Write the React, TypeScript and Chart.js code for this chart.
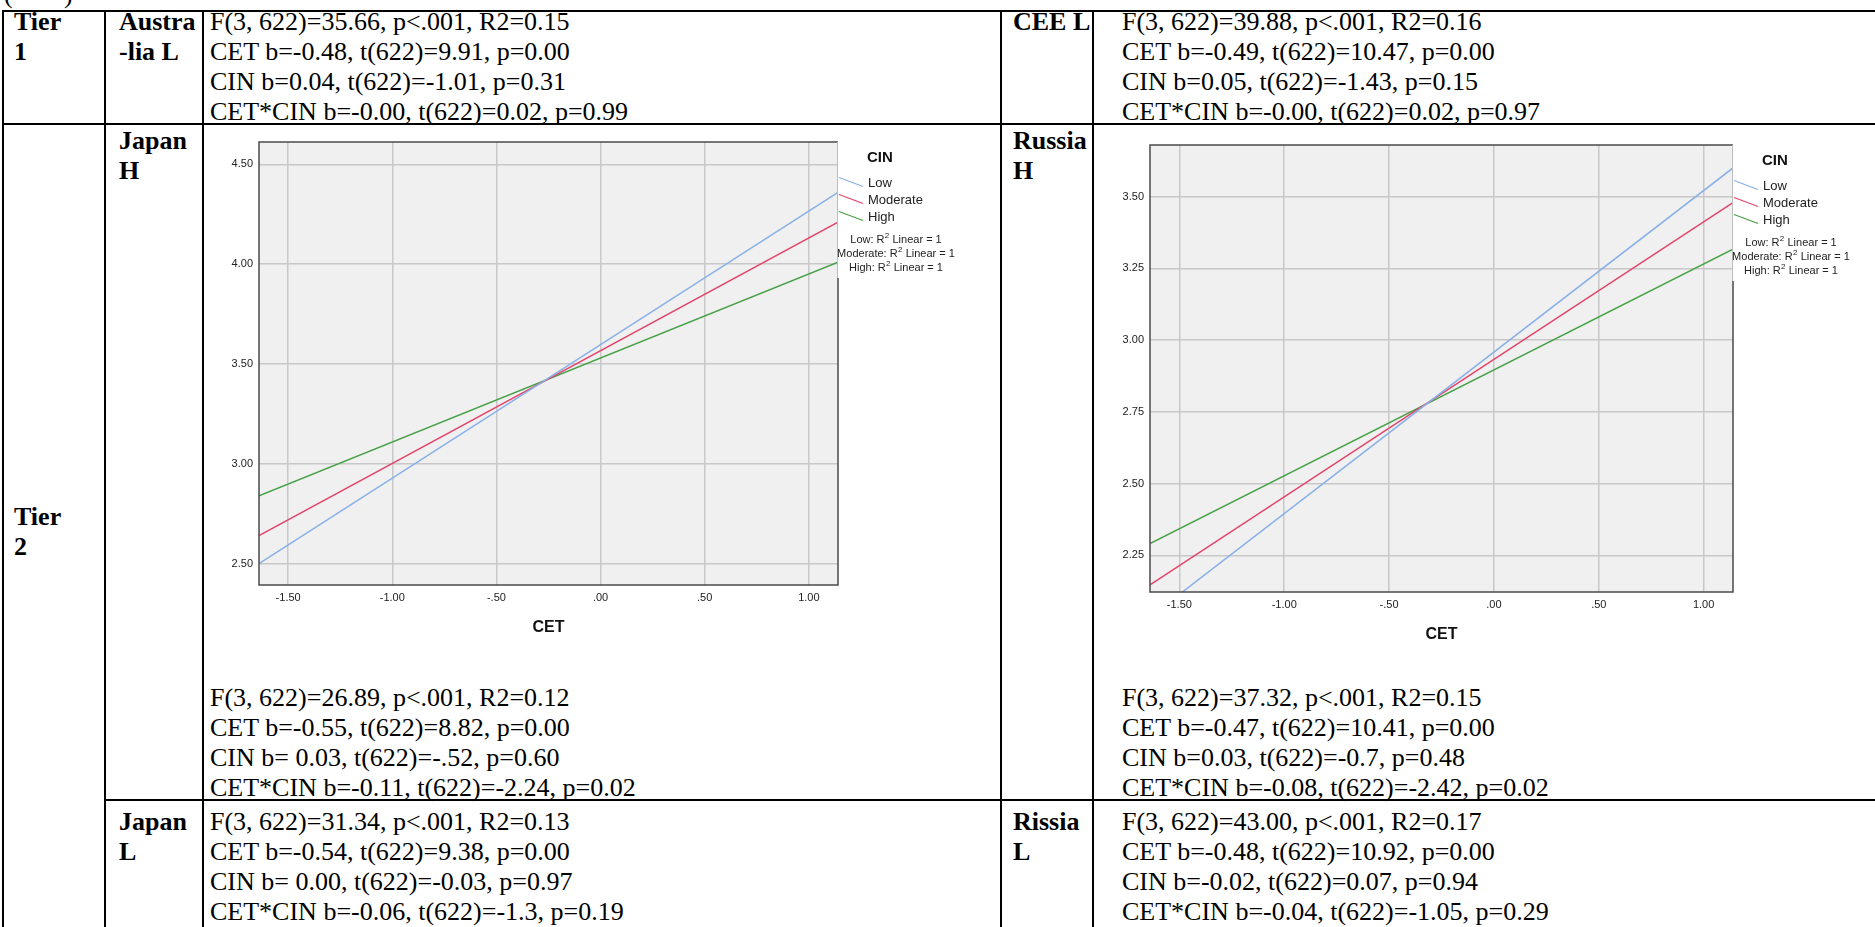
import React, { useEffect, useRef } from "react";
import { Chart, registerables } from "chart.js";

Chart.register(...registerables);

const SANS = '"Liberation Sans", Arial, sans-serif';
const SERIF = '"Liberation Serif", "Times New Roman", serif';

// ---------- chart data ----------
const CIN_LEVELS = ["Low", "Moderate", "High"];
const CIN_COLORS = ["#88b0e8", "#e2456c", "#46a046"];
const CET_RANGE = [-1.64, 1.14];
const CET_TICKS = [-1.5, -1, -0.5, 0, 0.5, 1];
const CET_TICK_LABELS = ["-1.50", "-1.00", "-.50", ".00", ".50", "1.00"];

const JAPAN_H_LOW = [2.5, 4.36];
const JAPAN_H_MODERATE = [2.64, 4.21];
const JAPAN_H_HIGH = [2.84, 4.01];
const JAPAN_Y_RANGE = [2.393, 4.612];
const JAPAN_Y_TICKS = [2.5, 3, 3.5, 4, 4.5];
const JAPAN_Y_TICK_LABELS = ["2.50", "3.00", "3.50", "4.00", "4.50"];

const RUSSIA_H_LOW = [2.035, 3.6];
const RUSSIA_H_MODERATE = [2.147, 3.479];
const RUSSIA_H_HIGH = [2.291, 3.317];
const RUSSIA_Y_RANGE = [2.122, 3.68];
const RUSSIA_Y_TICKS = [2.25, 2.5, 2.75, 3, 3.25, 3.5];
const RUSSIA_Y_TICK_LABELS = ["2.25", "2.50", "2.75", "3.00", "3.25", "3.50"];

const R2_PREFIX = ["Low: R", "Moderate: R", "High: R"];
const R2_SUFFIX = " Linear = 1";

// ---------- table text ----------
const AUSTRALIA_L = [
  "F(3, 622)=35.66, p<.001, R2=0.15",
  "CET b=-0.48, t(622)=9.91, p=0.00",
  "CIN b=0.04, t(622)=-1.01, p=0.31",
  "CET*CIN b=-0.00, t(622)=0.02, p=0.99",
];
const CEE_L = [
  "F(3, 622)=39.88, p<.001, R2=0.16",
  "CET b=-0.49, t(622)=10.47, p=0.00",
  "CIN b=0.05, t(622)=-1.43, p=0.15",
  "CET*CIN b=-0.00, t(622)=0.02, p=0.97",
];
const JAPAN_H = [
  "F(3, 622)=26.89, p<.001, R2=0.12",
  "CET b=-0.55, t(622)=8.82, p=0.00",
  "CIN b= 0.03, t(622)=-.52, p=0.60",
  "CET*CIN b=-0.11, t(622)=-2.24, p=0.02",
];
const RUSSIA_H = [
  "F(3, 622)=37.32, p<.001, R2=0.15",
  "CET b=-0.47, t(622)=10.41, p=0.00",
  "CIN b=0.03, t(622)=-0.7, p=0.48",
  "CET*CIN b=-0.08, t(622)=-2.42, p=0.02",
];
const JAPAN_L = [
  "F(3, 622)=31.34, p<.001, R2=0.13",
  "CET b=-0.54, t(622)=9.38, p=0.00",
  "CIN b= 0.00, t(622)=-0.03, p=0.97",
  "CET*CIN b=-0.06, t(622)=-1.3, p=0.19",
];
const RISSIA_L = [
  "F(3, 622)=43.00, p<.001, R2=0.17",
  "CET b=-0.48, t(622)=10.92, p=0.00",
  "CIN b=-0.02, t(622)=0.07, p=0.94",
  "CET*CIN b=-0.04, t(622)=-1.05, p=0.29",
];

// ---------- layout ----------
const TOP = 11;
const ROW1 = 124;
const ROW2 = 800;
const BOTTOM = 960;
const C0 = 3;
const C1 = 105;
const C2 = 203;
const C3 = 1001;
const C4 = 1093;
const RIGHT = 1875;
const FONT_SIZE = 26;
const LINE_H = 30;
const GRID = "#c8c8c8";

const legendPlugin = {
  id: "spssDecor",
  beforeDraw(chart: any) {
    const { ctx, chartArea: a } = chart;
    ctx.save();
    ctx.fillStyle = "#f0f0f0";
    ctx.fillRect(a.left, a.top, a.right - a.left, a.bottom - a.top);
    ctx.restore();
  },
  afterDraw(chart: any) {
    const { ctx, chartArea: a } = chart;
    const R = a.right;
    const T = a.top;
    const boxH = 136;
    ctx.save();
    // frame
    ctx.strokeStyle = "#4a4a4a";
    ctx.lineWidth = 1.5;
    ctx.beginPath();
    ctx.moveTo(R, T);
    ctx.lineTo(a.left, T);
    ctx.lineTo(a.left, a.bottom);
    ctx.lineTo(R, a.bottom);
    ctx.lineTo(R, T + boxH);
    ctx.stroke();
    ctx.strokeStyle = "#bdbdbd";
    ctx.lineWidth = 1;
    ctx.beginPath();
    ctx.moveTo(R - 0.5, T);
    ctx.lineTo(R - 0.5, T + boxH);
    ctx.stroke();

    // legend title
    ctx.fillStyle = "#111";
    ctx.textBaseline = "middle";
    ctx.textAlign = "left";
    ctx.font = `bold 15px ${SANS}`;
    ctx.fillText("CIN", R + 29, T + 15.5);

    // legend items
    chart.data.datasets.forEach((ds: any, i: number) => {
      const ty = T + 41.5 + 17 * i;
      ctx.strokeStyle = ds.borderColor;
      ctx.lineWidth = 1.3;
      ctx.beginPath();
      ctx.moveTo(R + 1, ty - 6);
      ctx.lineTo(R + 25, ty + 3);
      ctx.stroke();
      ctx.fillStyle = "#222";
      ctx.font = `13px ${SANS}`;
      ctx.fillText(ds.label, R + 30, ty);
    });

    // R2 notes
    R2_PREFIX.forEach((pre, i) => {
      const y = T + 98 + 14 * i;
      ctx.font = `11px ${SANS}`;
      const w1 = ctx.measureText(pre).width;
      const w3 = ctx.measureText(R2_SUFFIX).width;
      ctx.font = `8px ${SANS}`;
      const w2 = ctx.measureText("2").width + 0.5;
      const total = w1 + w2 + w3;
      let x = R + 58 - total / 2;
      ctx.fillStyle = "#222";
      ctx.font = `11px ${SANS}`;
      ctx.fillText(pre, x, y);
      x += w1;
      ctx.font = `8px ${SANS}`;
      ctx.fillText("2", x + 0.3, y - 4);
      x += w2;
      ctx.font = `11px ${SANS}`;
      ctx.fillText(R2_SUFFIX, x, y);
    });
    ctx.restore();
  },
};

type PlotProps = {
  left: number;
  top: number;
  width: number;
  height: number;
  areaLeft: number;
  areaTop: number;
  areaRight: number;
  areaBottom: number;
  titlePad: number;
  yRange: number[];
  yTicks: number[];
  yTickLabels: string[];
  series: number[][];
};

function InteractionPlot(p: PlotProps) {
  const ref = useRef<HTMLCanvasElement>(null);
  useEffect(() => {
    const canvas = ref.current as HTMLCanvasElement;
    const chart = new Chart(canvas, {
      type: "line",
      data: {
        datasets: CIN_LEVELS.map((lvl, i) => ({
          label: lvl,
          data: CET_RANGE.map((x, j) => ({ x, y: p.series[i][j] })),
          borderColor: CIN_COLORS[i],
          backgroundColor: CIN_COLORS[i],
          borderWidth: 1.5,
          pointRadius: 0,
          fill: false,
          tension: 0,
        })),
      },
      options: {
        responsive: false,
        animation: false,
        events: [],
        layout: {
          padding: { left: 0, top: p.areaTop, right: p.width - p.areaRight, bottom: 0 },
        },
        plugins: { legend: { display: false }, tooltip: { enabled: false } },
        scales: {
          x: {
            type: "linear",
            min: CET_RANGE[0],
            max: CET_RANGE[1],
            afterBuildTicks: (s: any) => {
              s.ticks = CET_TICKS.map((v) => ({ value: v }));
            },
            afterFit: (s: any) => {
              s.height = p.height - p.areaBottom;
            },
            grid: { color: GRID, lineWidth: 1.5, drawTicks: false },
            border: { display: false },
            ticks: {
              padding: 6,
              maxRotation: 0,
              autoSkip: false,
              color: "#222",
              font: { family: SANS, size: 11 },
              callback: (v: any) => CET_TICK_LABELS[CET_TICKS.indexOf(Number(v))],
            },
            title: {
              display: true,
              text: "CET",
              color: "#111",
              font: { family: SANS, size: 16, weight: "bold" },
              padding: { top: 0, bottom: p.titlePad },
            },
          },
          y: {
            type: "linear",
            min: p.yRange[0],
            max: p.yRange[1],
            afterBuildTicks: (s: any) => {
              s.ticks = p.yTicks.map((v) => ({ value: v }));
            },
            afterFit: (s: any) => {
              s.width = p.areaLeft;
            },
            grid: { color: GRID, lineWidth: 1.5, drawTicks: false },
            border: { display: false },
            ticks: {
              padding: 6,
              autoSkip: false,
              color: "#222",
              font: { family: SANS, size: 11 },
              callback: (v: any) => p.yTickLabels[p.yTicks.indexOf(Number(v))],
            },
          },
        },
      } as any,
      plugins: [legendPlugin],
    });
    return () => chart.destroy();
  }, []);
  return (
    <canvas
      ref={ref}
      width={p.width}
      height={p.height}
      style={{ position: "absolute", left: p.left, top: p.top, width: p.width, height: p.height, display: "block" }}
    />
  );
}

function HLine({ x1, x2, y }: { x1: number; x2: number; y: number }) {
  return <div style={{ position: "absolute", left: x1 - 1, top: y - 1, width: x2 - x1 + 2, height: 2, background: "#000" }} />;
}
function VLine({ x, y1, y2 }: { x: number; y1: number; y2: number }) {
  return <div style={{ position: "absolute", left: x - 1, top: y1 - 1, width: 2, height: y2 - y1 + 2, background: "#000" }} />;
}

function TextBlock({ x, y, lines, bold }: { x: number; y: number; lines: string[]; bold?: boolean }) {
  return (
    <div
      style={{
        position: "absolute",
        left: x,
        top: y,
        fontFamily: SERIF,
        fontSize: FONT_SIZE,
        lineHeight: `${LINE_H}px`,
        fontWeight: bold ? "bold" : "normal",
        whiteSpace: "pre",
        color: "#000",
      }}
    >
      {lines.map((l, i) => (
        <div key={i}>{l}</div>
      ))}
    </div>
  );
}

export default function App() {
  const LP = 14; // label padding
  const row1Y = 6.5;
  const row2StatsY = ROW2 - 117;
  const row3Y = ROW2 + 6.5;
  return (
    <div
      style={{
        position: "fixed",
        left: 0,
        top: 0,
        width: 1875,
        height: 927,
        overflow: "hidden",
        background: "#fff",
      }}
    >
      {/* clipped caption above table */}
      <div style={{ position: "absolute", left: 4, top: -20.5, fontFamily: SERIF, fontSize: FONT_SIZE, lineHeight: `${LINE_H}px` }}>(</div>
      <div style={{ position: "absolute", left: 64, top: -20.5, fontFamily: SERIF, fontSize: FONT_SIZE, lineHeight: `${LINE_H}px` }}>)</div>

      {/* borders */}
      <HLine x1={C0} x2={RIGHT} y={TOP} />
      <HLine x1={C0} x2={RIGHT} y={ROW1} />
      <HLine x1={C1} x2={RIGHT} y={ROW2} />
      <VLine x={C0} y1={TOP} y2={BOTTOM} />
      <VLine x={C1} y1={TOP} y2={BOTTOM} />
      <VLine x={C2} y1={TOP} y2={BOTTOM} />
      <VLine x={C3} y1={TOP} y2={BOTTOM} />
      <VLine x={C4} y1={TOP} y2={BOTTOM} />

      {/* row 1 */}
      <TextBlock x={C0 + 11} y={row1Y} lines={["Tier", "1"]} bold />
      <TextBlock x={C1 + LP} y={row1Y} lines={["Austra", "-lia L"]} bold />
      <TextBlock x={C2 + 7} y={row1Y} lines={AUSTRALIA_L} />
      <TextBlock x={C3 + 12} y={row1Y} lines={["CEE L"]} bold />
      <TextBlock x={C4 + 29} y={row1Y} lines={CEE_L} />

      {/* tier 2 */}
      <TextBlock x={C0 + 11} y={501.6} lines={["Tier", "2"]} bold />

      {/* row 2 */}
      <TextBlock x={C1 + LP} y={ROW1 + 2} lines={["Japan", "H"]} bold />
      <TextBlock x={C2 + 7} y={row2StatsY} lines={JAPAN_H} />
      <TextBlock x={C3 + 12} y={ROW1 + 2} lines={["Russia", "H"]} bold />
      <TextBlock x={C4 + 29} y={row2StatsY} lines={RUSSIA_H} />

      <InteractionPlot
        left={200}
        top={128}
        width={798}
        height={530}
        areaLeft={59}
        areaTop={14}
        areaRight={638}
        areaBottom={457}
        titlePad={20.9}
        yRange={JAPAN_Y_RANGE}
        yTicks={JAPAN_Y_TICKS}
        yTickLabels={JAPAN_Y_TICK_LABELS}
        series={[JAPAN_H_LOW, JAPAN_H_MODERATE, JAPAN_H_HIGH]}
      />
      <InteractionPlot
        left={1100}
        top={130}
        width={775}
        height={530}
        areaLeft={50}
        areaTop={15}
        areaRight={633}
        areaBottom={462}
        titlePad={15.4}
        yRange={RUSSIA_Y_RANGE}
        yTicks={RUSSIA_Y_TICKS}
        yTickLabels={RUSSIA_Y_TICK_LABELS}
        series={[RUSSIA_H_LOW, RUSSIA_H_MODERATE, RUSSIA_H_HIGH]}
      />

      {/* row 3 */}
      <TextBlock x={C1 + LP} y={row3Y} lines={["Japan", "L"]} bold />
      <TextBlock x={C2 + 7} y={row3Y} lines={JAPAN_L} />
      <TextBlock x={C3 + 12} y={row3Y} lines={["Rissia", "L"]} bold />
      <TextBlock x={C4 + 29} y={row3Y} lines={RISSIA_L} />
    </div>
  );
}
